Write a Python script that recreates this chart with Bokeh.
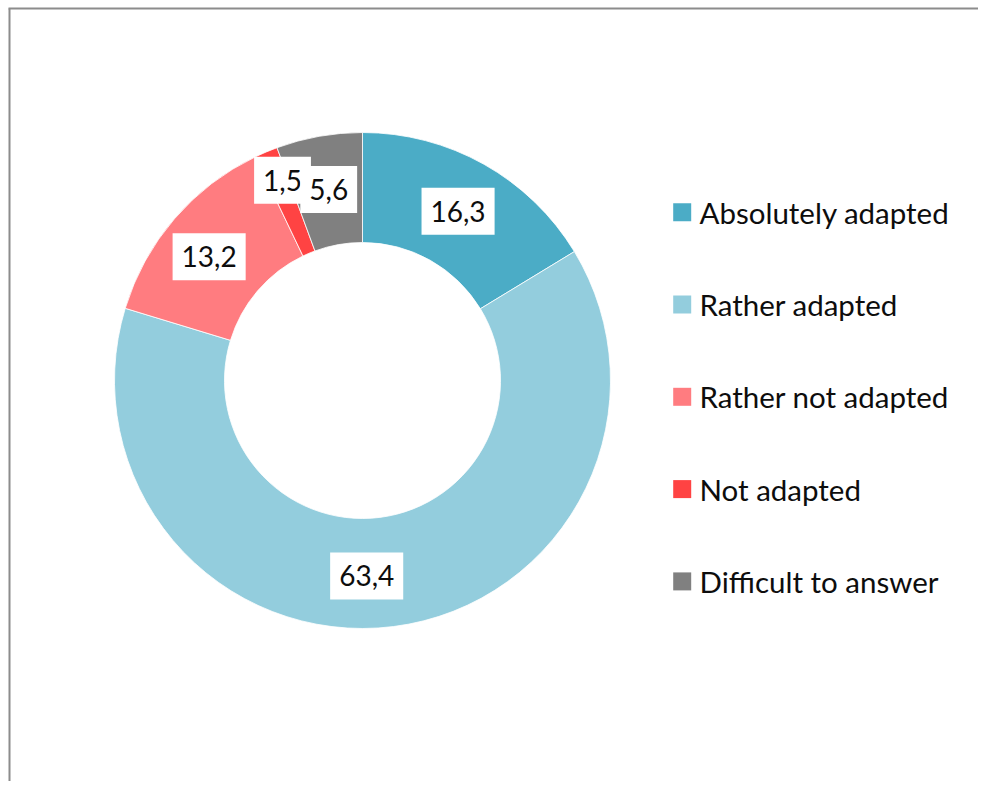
import math
from bokeh.plotting import figure
from bokeh.models import Range1d, ColumnDataSource
from bokeh.core.properties import value
from bokeh.embed import file_html
from bokeh.resources import INLINE

# ---- data ----
categories = ["Absolutely adapted", "Rather adapted", "Rather not adapted",
              "Not adapted", "Difficult to answer"]
values = [16.3, 63.4, 13.2, 1.5, 5.6]
value_labels = ["16,3", "63,4", "13,2", "1,5", "5,6"]
colors = ["#4BACC6", "#93CDDD", "#FF7C80", "#FF4343", "#808080"]

# ---- layout (screen units) ----
W, H = 978, 781
CX, CY = 362, H - 380          # donut centre
R_OUT, R_IN = 248, 138
R_LAB = (R_OUT + R_IN) / 2
# manual label nudges (pixels) mimicking the original placement
lab_dx = [1, -20, -7, -5, 0]
lab_dy = [1, -4, -2, 22.5, 1]
FONT = "Lato"

p = figure(width=W, height=H, output_backend="svg", toolbar_location=None,
           x_range=Range1d(0, W), y_range=Range1d(0, H), min_border=0)
p.axis.visible = False
p.grid.visible = False
p.outline_line_color = None
p.background_fill_color = "white"
p.border_fill_color = "white"

total = sum(values)
starts, ends, lx, ly = [], [], [], []
cum = 0.0
for i, v in enumerate(values):
    a0 = math.pi / 2 - 2 * math.pi * cum / total
    a1 = math.pi / 2 - 2 * math.pi * (cum + v) / total
    mid = 2 * math.pi * (cum + v / 2) / total
    starts.append(a0)
    ends.append(a1)
    lx.append(CX + R_LAB * math.sin(mid) + lab_dx[i])
    ly.append(CY + R_LAB * math.cos(mid) + lab_dy[i])
    cum += v

src = ColumnDataSource(dict(cat=categories, val=values, lab=value_labels,
                            color=colors, start=starts, end=ends, lx=lx, ly=ly))

p.annular_wedge(x=CX, y=CY, inner_radius=R_IN, outer_radius=R_OUT,
                inner_radius_units="screen", outer_radius_units="screen",
                start_angle="start", end_angle="end", direction="clock",
                fill_color="color", line_color="white", line_width=0.8,
                source=src)

p.text(x="lx", y="ly", text="lab", source=src, text_align="center",
       text_baseline="middle", text_font=value(FONT), text_font_size="28px",
       text_color="#0D0D0D", background_fill_color="white",
       padding=dict(x=9, y=13))

# ---- legend ----
LEG_X, LEG_Y0, LEG_DY = 681.7, H - 211.7, 92.3
leg_y = [LEG_Y0 - i * LEG_DY for i in range(len(categories))]
leg = ColumnDataSource(dict(cat=categories, color=colors,
                            x=[LEG_X] * len(categories), y=leg_y,
                            tx=[LEG_X + 17.3] * len(categories)))
p.scatter(x="x", y="y", marker="square", size=18, fill_color="color",
          line_color=None, source=leg)
p.text(x="tx", y="y", text="cat", source=leg, text_align="left",
       text_baseline="middle", text_font=value(FONT), text_font_size="29.5px",
       text_color="#0D0D0D")

# ---- frame lines (top and left edges of the chart area) ----
p.line(x=[9, 9], y=[-20, H - 8], line_color="#8C8C8C", line_width=2)
p.line(x=[8, W + 40], y=[H - 8, H - 8], line_color="#8C8C8C", line_width=2)

open("out.html", "w").write(file_html(p, INLINE))
